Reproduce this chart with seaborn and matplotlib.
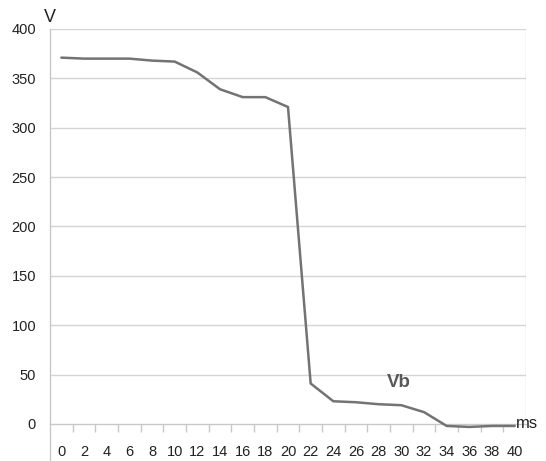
import numpy as np
import pandas as pd
import matplotlib
matplotlib.use("Agg")
import matplotlib.pyplot as plt
import seaborn as sns

# time in ms, voltage Vb in V
time_ms = [0, 2, 4, 6, 8, 10, 12, 14, 16, 18, 20,
           22, 24, 26, 28, 30, 32, 34, 36, 38, 40]
volts = [371, 370, 370, 370, 368, 367, 356, 339, 331, 331, 321,
         41, 23, 22, 20, 19, 12, -2, -3, -2, -2]
y_ticks = [0, 50, 100, 150, 200, 250, 300, 350, 400]

sns.set_style("white")
plt.rcParams["font.family"] = ["Liberation Sans", "DejaVu Sans"]

df = pd.DataFrame({"ms": time_ms, "V": volts})

fig = plt.figure(figsize=(5.46, 4.61), dpi=100)
ax = fig.add_axes([50 / 546, 0, 476 / 546, 1 - 29 / 461])

# grid lines
for y in y_ticks[1:]:
    ax.axhline(y, color="#d4d4d4", lw=1.0, zorder=0)
ax.vlines(41, -6, 400, color="#d4d4d4", lw=1.0, zorder=0)

sns.lineplot(data=df, x="ms", y="V", ax=ax, color="#737373", lw=1.8, zorder=3)

ax.set_xlim(-1, 41)
ax.set_ylim(-37.5, 400)

for s in ["top", "right"]:
    ax.spines[s].set_visible(False)
ax.spines["left"].set_color("#c8c8c8")
ax.spines["left"].set_linewidth(1.0)
ax.spines["bottom"].set_position(("data", 0))
ax.spines["bottom"].set_color("#c8c8c8")
ax.spines["bottom"].set_linewidth(1.0)
ax.spines["bottom"].set_zorder(1)

ax.set_yticks(y_ticks)
ax.set_yticklabels([str(v) for v in y_ticks], fontsize=10.5, color="#222222")
ax.tick_params(axis="y", length=0, pad=10)

ax.set_xticks(time_ms)
ax.set_xticklabels([str(t) for t in time_ms], fontsize=10.5, color="#222222")
ax.set_xticks(np.arange(1, 41, 2), minor=True)
ax.tick_params(axis="x", which="major", length=0, pad=15)
ax.tick_params(axis="x", which="minor", length=6, width=1.0, color="#c8c8c8",
               direction="out", bottom=True)

ax.set_xlabel("")
ax.set_ylabel("")

fig.text(50 / 546, 1 - 18 / 461, "V", fontsize=13, color="#222222",
         ha="center", va="center")
ax.text(40.15, 0, "ms", fontsize=12, color="#222222", ha="left", va="center",
        clip_on=False, zorder=4)
ax.text(29.8, 41.5, "Vb", fontsize=13.5, fontweight="bold", color="#595959",
        ha="center", va="center")

fig.savefig("out.png", dpi=100)
